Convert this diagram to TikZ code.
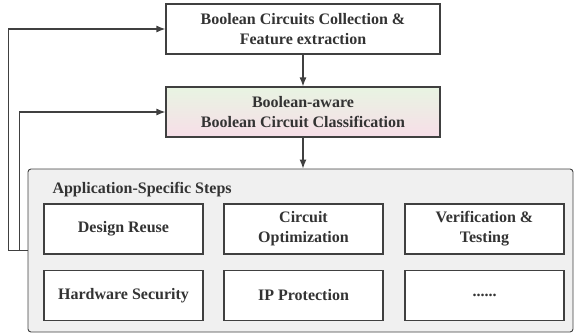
\documentclass[tikz,border=0pt]{standalone}
\usepackage{fontspec}
\setmainfont{Liberation Serif}
\usetikzlibrary{arrows.meta}

\definecolor{lineclr}{RGB}{64,64,64}
\definecolor{textclr}{RGB}{51,51,51}
\definecolor{panelclr}{RGB}{240,240,240}
\definecolor{topgreen}{RGB}{232,244,226}
\definecolor{botpink}{RGB}{247,222,232}

\tikzset{
  stagebox/.style={draw=lineclr, line width=1.2pt, fill=white, text=textclr,
    minimum width=274pt, minimum height=50pt, align=center,
    font=\bfseries\fontsize{16}{20}\selectfont},
  appbox/.style={stagebox, minimum width=159pt},
  flow/.style={draw=lineclr, line width=1.2pt, -{Latex[length=9pt,width=7pt]}}
}

\begin{document}
\begin{tikzpicture}[x=1pt,y=-1pt]
        \useasboundingbox (0,0) rectangle (574,335);

        %% main stages
        \node (collect) at (303,29) [stagebox] {Boolean Circuits Collection \&\\Feature extraction};
        \node (classify) at (303,112) [stagebox, fill=none, top color=topgreen, bottom color=botpink]
              {Boolean-aware\\Boolean Circuit Classification};

        %% application panel
        \node (apps) at (300.5,250.5) [draw=lineclr, line width=.9pt, fill=panelclr,
              rounded corners=3pt, minimum width=545pt, minimum height=163pt] {};
        \node (appstitle) at (49,190) [anchor=west, text=textclr,
              font=\bfseries\fontsize{16}{20}\selectfont] {Application-Specific Steps};

        %% top row
        \node (reuse) at (123.5,229) [appbox] {Design Reuse};
        \node (optim) at (303.5,229) [appbox] {Circuit\\Optimization};
        \node (verif) at (484.5,229) [appbox] {Verification \&\\Testing};

        %% bottom row
        \node (hwsec) at (123.5,295.5) [appbox] {Hardware Security};
        \node (ipprot) at (303.5,295.5) [appbox] {IP Protection};
        \node (more) at (484.5,295.5) [appbox] {......};

        %% arrows
        \draw[flow] (collect) -- (classify);
        \draw[flow] (classify.south) -- (classify.south |- apps.north);
        \draw[flow] (apps.west) -- ++(-19,0) |- (collect.west);
        \draw[flow] (apps.west) -- ++(-8,0) |- (classify.west);
      \end{tikzpicture}
\end{document}
